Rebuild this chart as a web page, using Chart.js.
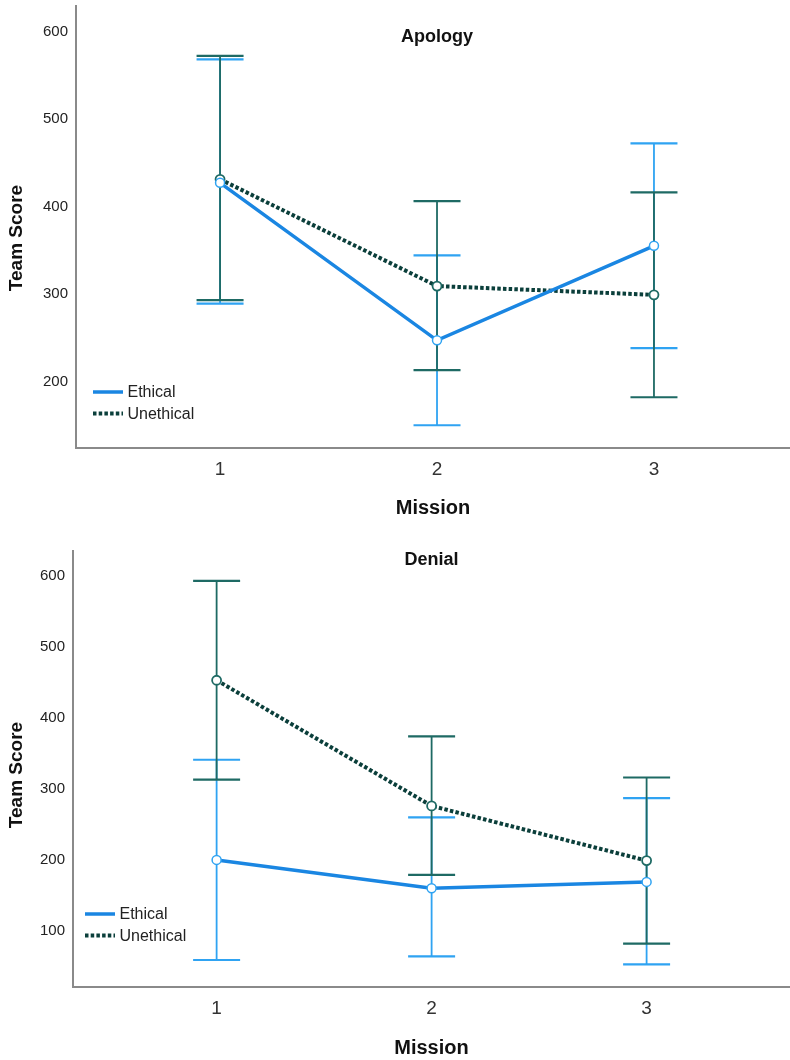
<!DOCTYPE html>
<html><head><meta charset="utf-8">
<script src="https://cdn.jsdelivr.net/npm/chart.js@4.4.0/dist/chart.umd.min.js"></script>
<style>
html,body{margin:0;padding:0;background:#fff;}
#wrap{position:relative;width:790px;height:1060px;background:#fff;overflow:hidden;}
#c1{position:absolute;left:0;top:0;width:790px;height:520px;}
#c2{position:absolute;left:0;top:520px;width:790px;height:540px;}
</style></head><body>
<div id="wrap"><canvas id="c1" width="790" height="520"></canvas><canvas id="c2" width="790" height="540"></canvas></div>
<script>
// ---- data ----
const missions = [1, 2, 3];
const seriesNames = ['Ethical', 'Unethical'];

const apologyEthical      = [427, 247, 355];
const apologyEthicalLow   = [289, 150, 238];
const apologyEthicalHigh  = [568, 344, 472];
const apologyUnethical     = [431, 309, 299];
const apologyUnethicalLow  = [293, 213, 182];
const apologyUnethicalHigh = [572, 406, 416];

const denialEthical      = [200, 160, 169];
const denialEthicalLow   = [59, 64, 53];
const denialEthicalHigh  = [341, 260, 287];
const denialUnethical     = [453, 276, 199];
const denialUnethicalLow  = [313, 179, 82];
const denialUnethicalHigh = [593, 374, 316];

const yTicksApology = [200, 300, 400, 500, 600];
const yTicksDenial  = [100, 200, 300, 400, 500, 600];

// ---- styles ----
const ETH_LINE = '#1a86e2';
const ETH_BAR = '#2fa3f2';
const UNETH_LINE = '#0b3f3b';
const UNETH_BAR = '#1e6a64';
const FONT = "'Liberation Sans', Arial, Helvetica, sans-serif";
Chart.defaults.font.family = FONT;

const errorBarPlugin = {
  id: 'errorBars',
  beforeDatasetsDraw(chart) {
    const ctx = chart.ctx;
    const ys = chart.scales.y;
    chart.data.datasets.forEach((ds, di) => {
      const meta = chart.getDatasetMeta(di);
      ctx.save();
      ctx.strokeStyle = ds.errColor;
      ctx.setLineDash([]);
      meta.data.forEach((pt, i) => {
        const x = pt.x;
        const yl = ys.getPixelForValue(ds.errLow[i]);
        const yh = ys.getPixelForValue(ds.errHigh[i]);
        ctx.lineWidth = 1.8;
        ctx.beginPath(); ctx.moveTo(x, yl); ctx.lineTo(x, yh); ctx.stroke();
        ctx.lineWidth = 2.2;
        ctx.beginPath();
        ctx.moveTo(x - 23.5, yl); ctx.lineTo(x + 23.5, yl);
        ctx.moveTo(x - 23.5, yh); ctx.lineTo(x + 23.5, yh);
        ctx.stroke();
      });
      ctx.restore();
    });
  }
};

const decorPlugin = {
  id: 'decor',
  afterDraw(chart, args, opts) {
    const ctx = chart.ctx;
    const xs = chart.scales.x;
    ctx.save();
    // panel title
    ctx.fillStyle = '#111';
    ctx.font = 'bold 18px ' + FONT;
    ctx.textAlign = 'center';
    ctx.textBaseline = 'middle';
    ctx.fillText(opts.title, xs.getPixelForValue(missions[1]), opts.titleY);
    // y axis title
    ctx.save();
    ctx.translate(17, opts.yTitleY);
    ctx.rotate(-Math.PI / 2);
    ctx.font = 'bold 19px ' + FONT;
    ctx.fillText('Team Score', 0, 0);
    ctx.restore();
    // legend
    chart.data.datasets.forEach((ds, i) => {
      const y = opts.legendY + i * 21.5;
      ctx.save();
      ctx.strokeStyle = ds.borderColor;
      ctx.lineWidth = ds.borderWidth;
      ctx.setLineDash(ds.borderDash || []);
      ctx.beginPath(); ctx.moveTo(opts.legendX, y); ctx.lineTo(opts.legendX + 30, y); ctx.stroke();
      ctx.restore();
      ctx.fillStyle = '#222';
      ctx.font = '16px ' + FONT;
      ctx.textAlign = 'left';
      ctx.textBaseline = 'middle';
      ctx.fillText(ds.label, opts.legendX + 34.5, y + 1);
    });
    ctx.restore();
  }
};

function makeChart(id, c) {
  return new Chart(document.getElementById(id), {
    type: 'line',
    data: {
      datasets: [
        {
          label: seriesNames[0],
          data: missions.map((m, i) => ({ x: m, y: c.eth[i] })),
          borderColor: ETH_LINE, borderWidth: 3.5,
          pointRadius: 4.5, pointBorderColor: ETH_BAR, pointBackgroundColor: '#fff', pointBorderWidth: 1.5,
          errLow: c.ethLow, errHigh: c.ethHigh, errColor: ETH_BAR,
          tension: 0, fill: false
        },
        {
          label: seriesNames[1],
          data: missions.map((m, i) => ({ x: m, y: c.uneth[i] })),
          borderColor: UNETH_LINE, borderWidth: 4, borderDash: [3.5, 2.2], borderCapStyle: 'butt',
          pointRadius: 4.5, pointBorderColor: UNETH_BAR, pointBackgroundColor: '#fff', pointBorderWidth: 1.8,
          errLow: c.unethLow, errHigh: c.unethHigh, errColor: UNETH_BAR,
          tension: 0, fill: false
        }
      ]
    },
    options: {
      responsive: false,
      animation: false,
      devicePixelRatio: 1,
      layout: { autoPadding: false, padding: { top: c.padTop, left: 0, right: 0, bottom: 0 } },
      plugins: {
        legend: { display: false },
        tooltip: { enabled: false },
        decor: { title: c.title, titleY: c.titleY, yTitleY: c.yTitleY, legendX: c.legendX, legendY: c.legendY }
      },
      scales: {
        x: {
          type: 'linear', position: 'bottom',
          min: c.xMin, max: c.xMax,
          afterBuildTicks: s => { s.ticks = missions.map(v => ({ value: v })); },
          afterFit: s => { s.height = c.xHeight; s.paddingLeft = 0; s.paddingRight = 0; },
          grid: { display: false, drawTicks: false },
          border: { display: true, color: '#8a8a8a', width: 2 },
          ticks: { padding: 10, color: '#333', font: { size: 19 } },
          title: { display: true, text: 'Mission', color: '#111', font: { size: 20, weight: 'bold' }, padding: { top: 0, bottom: 0 } }
        },
        y: {
          type: 'linear',
          min: c.yMin, max: c.yMax,
          afterBuildTicks: s => { s.ticks = c.yTicks.map(v => ({ value: v })); },
          afterFit: s => { s.width = c.yWidth; s.paddingTop = 0; s.paddingBottom = 0; },
          grid: { display: false, drawTicks: false },
          border: { display: true, color: '#8a8a8a', width: 2 },
          ticks: { padding: 8, color: '#222', font: { size: 15 } }
        }
      }
    },
    plugins: [errorBarPlugin, decorPlugin]
  });
}

makeChart('c1', {
  title: 'Apology', titleY: 37, yTitleY: 238, legendX: 93, legendY: 392,
  eth: apologyEthical, ethLow: apologyEthicalLow, ethHigh: apologyEthicalHigh,
  uneth: apologyUnethical, unethLow: apologyUnethicalLow, unethHigh: apologyUnethicalHigh,
  yTicks: yTicksApology, yMin: 124, yMax: 629, xMin: 0.336, xMax: 3.627,
  padTop: 6, xHeight: 72, yWidth: 76
});

makeChart('c2', {
  title: 'Denial', titleY: 40, yTitleY: 255, legendX: 85, legendY: 394,
  eth: denialEthical, ethLow: denialEthicalLow, ethHigh: denialEthicalHigh,
  uneth: denialUnethical, unethLow: denialUnethicalLow, unethHigh: denialUnethicalHigh,
  yTicks: yTicksDenial, yMin: 21, yMax: 635, xMin: 0.332, xMax: 3.667,
  padTop: 31, xHeight: 73, yWidth: 73
});
</script>
</body></html>
